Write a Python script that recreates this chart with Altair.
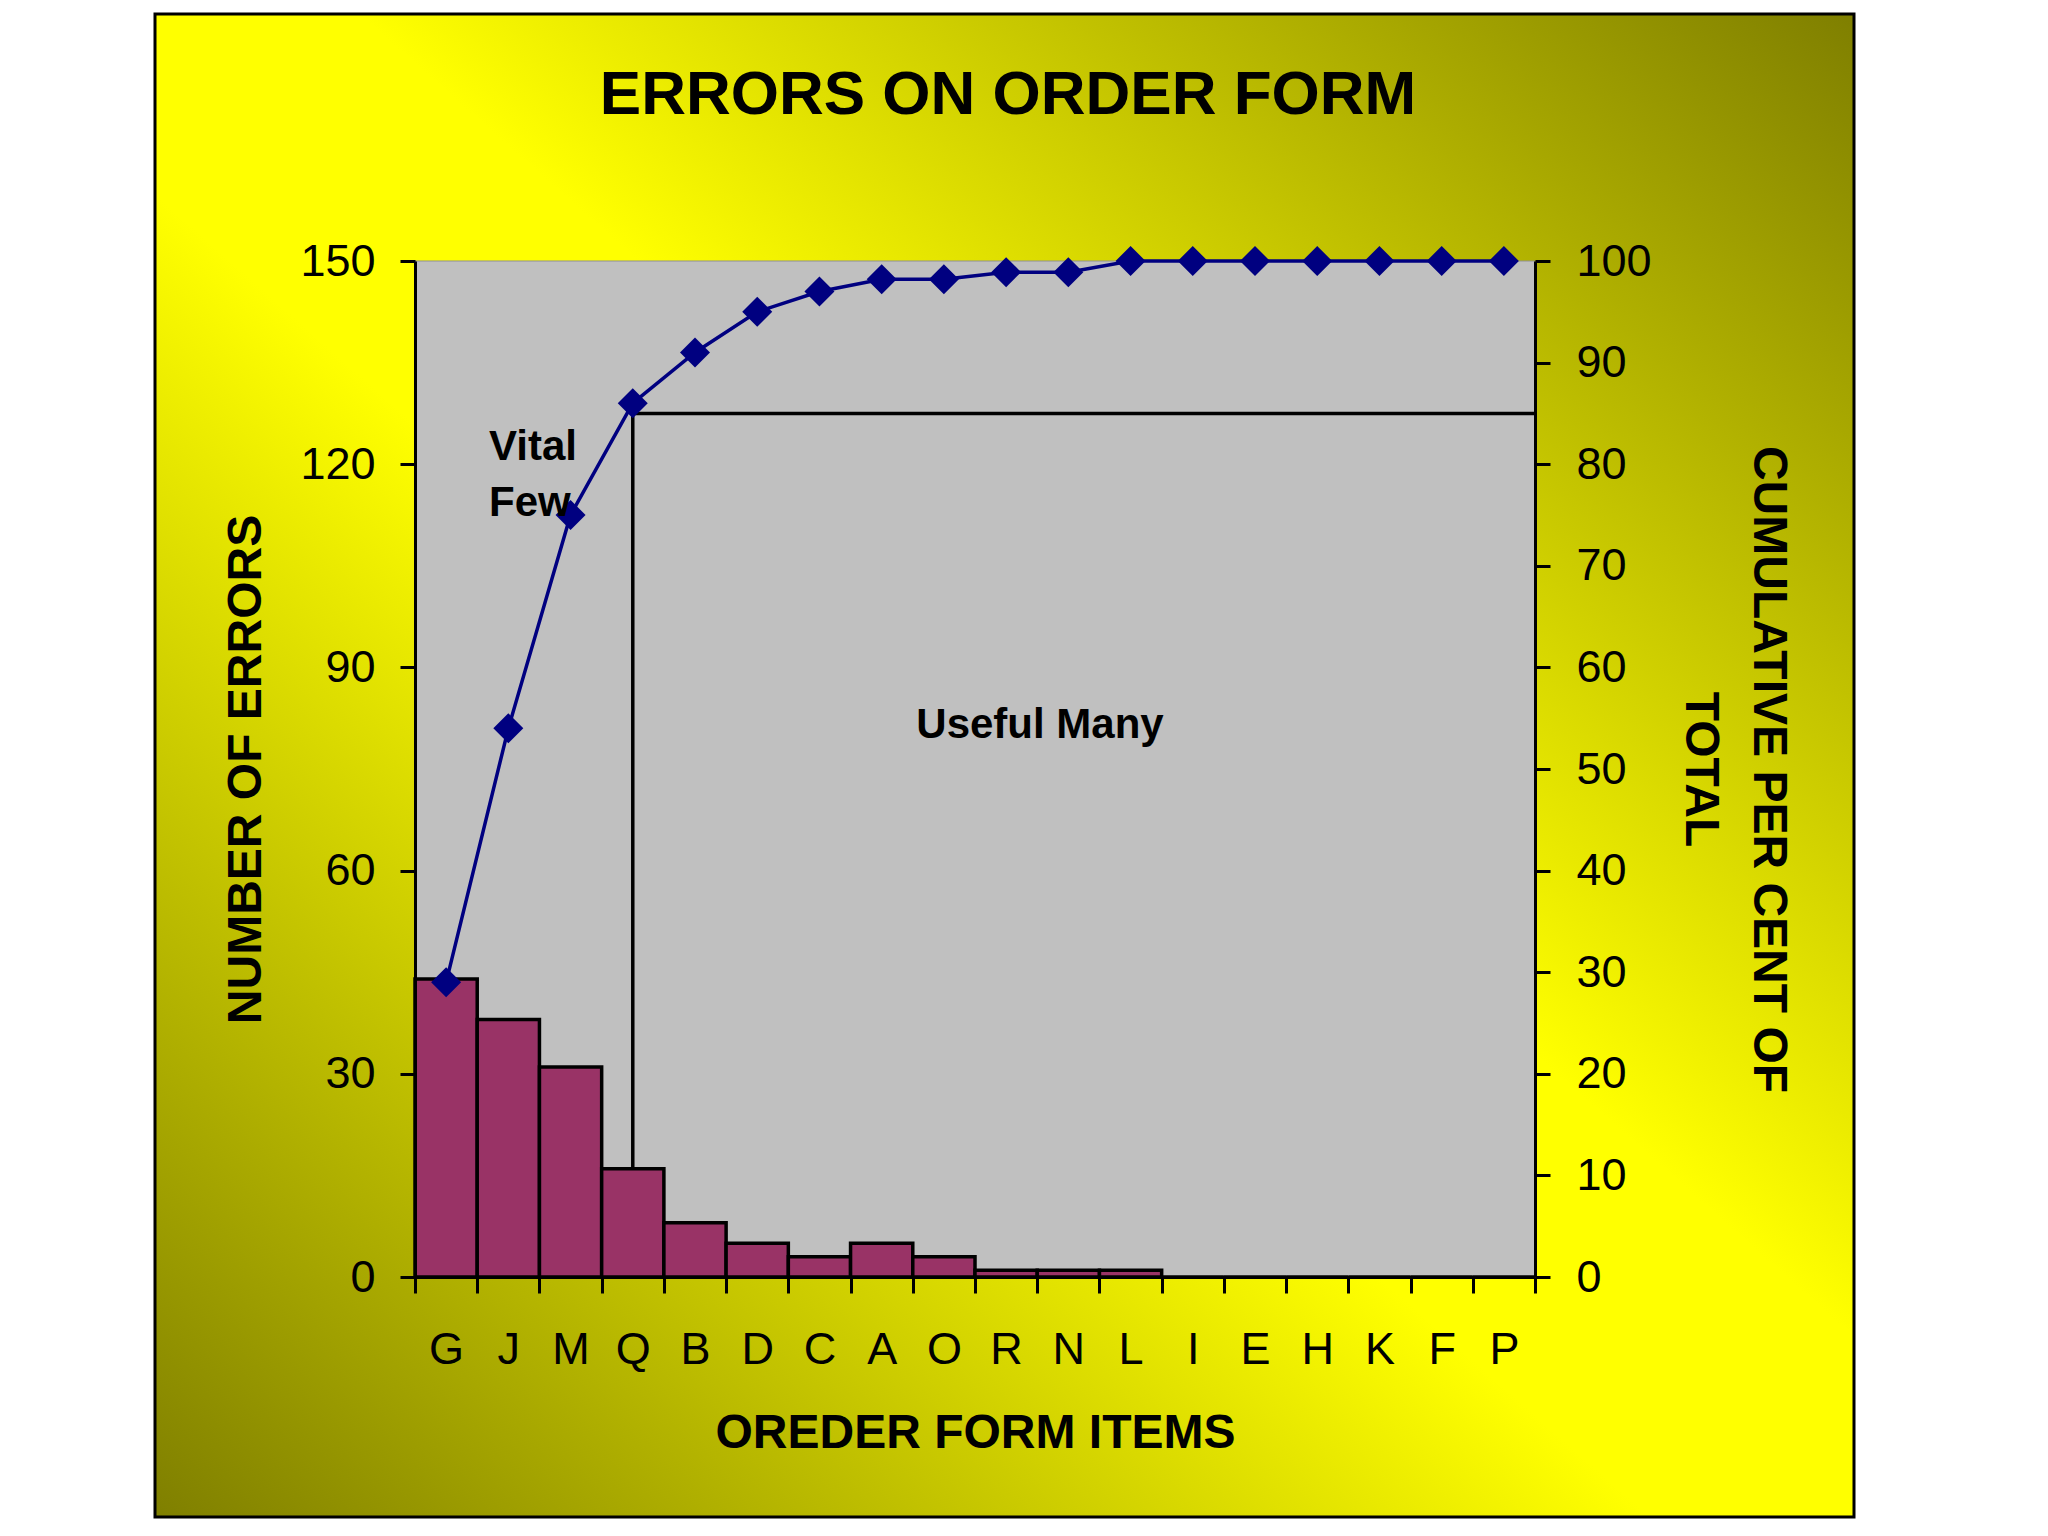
import altair as alt
import pandas as pd

# ---- data ----
items = ["G", "J", "M", "Q", "B", "D", "C", "A", "O", "R", "N", "L",
         "I", "E", "H", "K", "F", "P"]
counts = [44, 38, 31, 16, 8, 5, 3, 5, 3, 1, 1, 1, 0, 0, 0, 0, 0, 0]
cum_pct = [29, 54, 75, 86, 91, 95, 97, 98.2, 98.2, 98.9, 98.9, 100,
           100, 100, 100, 100, 100, 100]
left_ticks = [0, 30, 60, 90, 120, 150]
right_ticks = [0, 10, 20, 30, 40, 50, 60, 70, 80, 90, 100]
cutoff_pct = 85
cutoff_item = "Q"

W, H = 1120, 1016
FONT = "Liberation Sans"
NAVY = "#000080"

df = pd.DataFrame({"item": items, "count": counts, "cum": cum_pct})
one = pd.DataFrame({"k": [0]})
q_count = counts[items.index(cutoff_item)]
cut_df = pd.DataFrame({"item": [cutoff_item], "pct": [cutoff_pct],
                       "low": [q_count / left_ticks[-1] * right_ticks[-1]]})

xaxis = alt.Axis(
    tickBand="extent", tickSize=16, tickWidth=3, tickColor="black",
    domainColor="black", domainWidth=3, labelFontSize=45, labelFont=FONT,
    labelColor="black", labelPadding=34, labelAngle=0,
    titleFontSize=48, titleFont=FONT, titleFontWeight="bold", titleColor="black",
    titlePadding=37, grid=False, zindex=1,
)
xenc = alt.X("item:N", sort=items, title="OREDER FORM ITEMS",
             scale=alt.Scale(paddingInner=0, paddingOuter=0), axis=xaxis)

grad = alt.LinearGradient(
    gradient="linear",
    stops=[alt.GradientStop(offset=0, color="#7F7F00"),
           alt.GradientStop(offset=0.44, color="#FFFF00"),
           alt.GradientStop(offset=0.56, color="#FFFF00"),
           alt.GradientStop(offset=1, color="#7F7F00")],
    x1=1, y1=0, x2=0, y2=1,
)

bg = alt.Chart(one).mark_rect(fill=grad, stroke="black", strokeWidth=3, clip=False).encode(
    x=alt.value(-260), x2=alt.value(1439), y=alt.value(-247), y2=alt.value(1256)
)
plotbg = alt.Chart(one).mark_rect(fill="#C0C0C0", stroke="#909090", strokeWidth=1).encode(
    x=alt.value(0), x2=alt.value(W), y=alt.value(0), y2=alt.value(H)
)

left_axis = alt.Axis(
    orient="left", values=left_ticks, tickSize=15, tickWidth=3, tickColor="black",
    domainColor="black", domainWidth=3, labelFontSize=45, labelFont=FONT,
    labelColor="black", labelPadding=25, title="NUMBER OF ERRORS",
    titleFontSize=48, titleFont=FONT, titleFontWeight="bold", titleColor="black",
    titlePadding=29, grid=False, zindex=1,
)
right_axis = alt.Axis(
    orient="right", values=right_ticks, tickSize=15, tickWidth=3, tickColor="black",
    domainColor="black", domainWidth=3, labelFontSize=45, labelFont=FONT,
    labelColor="black", labelPadding=26, title=["CUMULATIVE PER CENT OF", "TOTAL"],
    titleFontSize=48, titleFont=FONT, titleFontWeight="bold", titleColor="black",
    titlePadding=24, titleLineHeight=68, grid=False, zindex=1,
)

ycount = alt.Y("count:Q", scale=alt.Scale(domain=[0, left_ticks[-1]]), axis=left_axis)
ypct_scale = alt.Scale(domain=[0, right_ticks[-1]])

bars = alt.Chart(df).mark_bar(color="#993366", stroke="black", strokeWidth=3.5).encode(
    x=xenc, y=ycount
)

line = alt.Chart(df).mark_line(color=NAVY, strokeWidth=3.5).encode(
    x=xenc, y=alt.Y("cum:Q", scale=ypct_scale, axis=right_axis)
)
pts = alt.Chart(df).mark_point(shape="diamond", filled=True, size=900, color=NAVY, opacity=1).encode(
    x=xenc, y=alt.Y("cum:Q", scale=ypct_scale, axis=right_axis)
)
hrule = alt.Chart(cut_df).mark_rule(color="black", strokeWidth=3.5).encode(
    x=xenc, x2=alt.value(W), y=alt.Y("pct:Q", scale=ypct_scale, axis=right_axis)
)
vrule = alt.Chart(cut_df).mark_rule(color="black", strokeWidth=3.5).encode(
    x=xenc, y=alt.Y("pct:Q", scale=ypct_scale, axis=right_axis), y2="low:Q"
)
pct_layer = alt.layer(hrule, vrule, line, pts)

def label(txt, x, y, align="left"):
    return alt.Chart(one).mark_text(
        text=txt, font=FONT, fontSize=42, fontWeight="bold", color="black",
        align=align, baseline="middle"
    ).encode(x=alt.value(x), y=alt.value(y))

vital = label("Vital", 74, 186)
few = label("Few", 74, 242)
useful = label("Useful Many", 625, 464, align="center")

chart = alt.layer(bg, plotbg, bars, pct_layer, vital, few, useful).resolve_scale(
    y="independent"
).properties(
    width=W, height=H,
    autosize=alt.AutoSizeParams(type="none"),
    padding={"left": 407, "top": 253, "right": 340, "bottom": 250},
    title=alt.TitleParams(
        text="ERRORS ON ORDER FORM", fontSize=62, font=FONT, fontWeight="bold",
        color="black", anchor="middle", baseline="alphabetic", offset=-163, dx=33,
        zindex=1,
    ),
).configure_view(strokeWidth=0).configure(background="white")

chart.save("out.html", embed_options={"renderer": "svg", "actions": False})
